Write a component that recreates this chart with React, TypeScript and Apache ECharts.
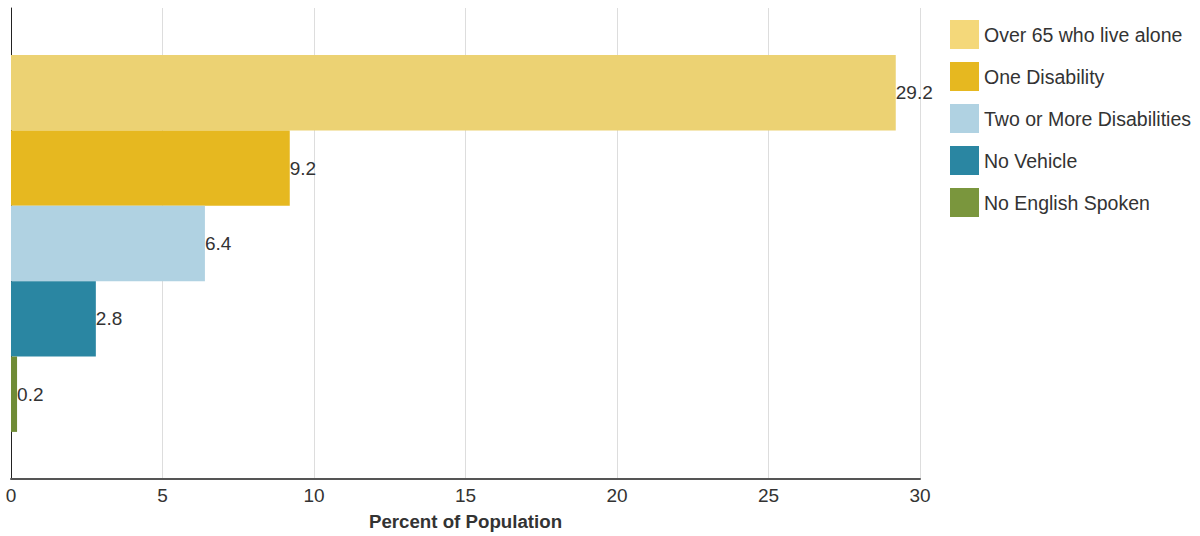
import React, { useEffect, useRef } from "react";
import * as echarts from "echarts";

const categories = [""];
const seriesNames = [
  "Over 65 who live alone",
  "One Disability",
  "Two or More Disabilities",
  "No Vehicle",
  "No English Spoken",
];
const seriesValues = [29.2, 9.2, 6.4, 2.8, 0.2];
const barColors = ["#ECD273", "#E6B820", "#B0D2E2", "#2A86A2", "#6F8B35"];
const legendColors = ["#F4D87A", "#E6B820", "#B0D2E2", "#2A86A2", "#7A963D"];
const xTicks = [0, 5, 10, 15, 20, 25, 30];

export default function App() {
  const ref = useRef<HTMLDivElement>(null);
  useEffect(() => {
    if (!ref.current) return;
    const chart = echarts.init(ref.current, undefined, { renderer: "svg" });
    const font = "Liberation Sans, Arial, sans-serif";
    chart.setOption({
      animation: false,
      textStyle: { fontFamily: font },
      grid: {
        left: 11,
        right: 280,
        top: 8,
        bottom: 57,
        containLabel: false,
        outerBoundsMode: "none",
      },
      legend: {
        orient: "vertical",
        left: 945,
        top: 15,
        itemWidth: 29,
        itemHeight: 29,
        itemGap: 13,
        icon: "rect",
        textStyle: { fontSize: 19.5, color: "#333", fontFamily: font },
        data: seriesNames.map((n, i) => ({ name: n, itemStyle: { color: legendColors[i] } })),
      },
      xAxis: {
        type: "value",
        min: xTicks[0],
        max: xTicks[xTicks.length - 1],
        interval: 5,
        name: "Percent of Population",
        nameLocation: "middle",
        nameGap: 33,
        nameTextStyle: { fontSize: 18.7, fontWeight: "bold", color: "#333", fontFamily: font },
        axisLine: { show: true, lineStyle: { color: "#555", width: 2 } },
        axisTick: { show: false },
        axisLabel: { fontSize: 19, color: "#333", margin: 7, fontFamily: font },
        splitLine: { show: true, lineStyle: { color: "#DDDDDD", width: 1 } },
      },
      yAxis: {
        type: "category",
        data: categories,
        inverse: true,
        axisLine: { show: true, lineStyle: { color: "#222", width: 1 } },
        axisTick: { show: false },
        axisLabel: { show: false },
      },
      series: seriesNames.map((n, i) => ({
        name: n,
        type: "bar",
        data: [seriesValues[i]],
        barGap: "0%",
        barCategoryGap: "20%",
        itemStyle: { color: barColors[i] },
        label: {
          show: true,
          position: "right",
          distance: 0,
          fontSize: 19,
          color: "#333",
          fontFamily: font,
        },
      })),
    });
    return () => chart.dispose();
  }, []);
  return (
    <div
      ref={ref}
      style={{ width: 1200, height: 536, position: "absolute", left: 0, top: 0 }}
    />
  );
}
